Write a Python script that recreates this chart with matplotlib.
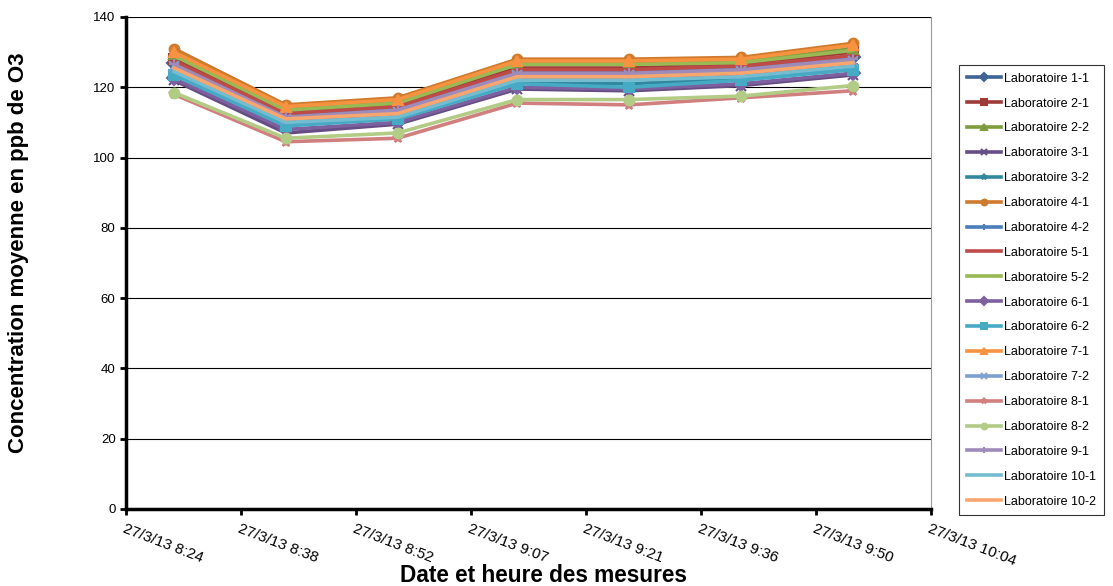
import matplotlib
matplotlib.use("Agg")
import matplotlib.pyplot as plt
import matplotlib.dates as mdates
from datetime import datetime

plt.rcParams['font.family'] = ['Liberation Sans', 'DejaVu Sans']

# Measurement times (27/3/13)
times = ["08:30", "08:44", "08:58", "09:13", "09:27", "09:41", "09:55"]

# Mean O3 concentration per laboratory (ppb)
labs = ["Laboratoire 1-1", "Laboratoire 2-1", "Laboratoire 2-2", "Laboratoire 3-1",
        "Laboratoire 3-2", "Laboratoire 4-1", "Laboratoire 4-2", "Laboratoire 5-1",
        "Laboratoire 5-2", "Laboratoire 6-1", "Laboratoire 6-2", "Laboratoire 7-1",
        "Laboratoire 7-2", "Laboratoire 8-1", "Laboratoire 8-2", "Laboratoire 9-1",
        "Laboratoire 10-1", "Laboratoire 10-2"]
lab_1_1 = [127.0, 112.0, 114.0, 124.5, 124.5, 125.5, 128.5]
lab_2_1 = [128.0, 113.0, 115.0, 125.5, 125.5, 126.5, 130.0]
lab_2_2 = [129.5, 114.0, 116.0, 127.0, 127.0, 127.5, 131.0]
lab_3_1 = [122.0, 107.0, 109.5, 119.5, 119.0, 120.5, 123.5]
lab_3_2 = [124.0, 109.5, 111.0, 121.5, 121.0, 122.5, 125.5]
lab_4_1 = [131.0, 115.0, 117.0, 128.0, 128.0, 128.5, 132.5]
lab_4_2 = [125.0, 110.5, 112.0, 122.5, 122.5, 123.5, 126.5]
lab_5_1 = [127.5, 112.5, 114.5, 125.0, 125.0, 126.0, 129.0]
lab_5_2 = [129.0, 113.5, 115.5, 126.5, 126.5, 127.0, 130.5]
lab_6_1 = [122.5, 108.0, 110.0, 120.0, 119.5, 121.0, 124.0]
lab_6_2 = [123.5, 109.0, 111.0, 121.0, 120.0, 122.0, 125.0]
lab_7_1 = [130.0, 114.5, 116.5, 127.5, 127.5, 128.0, 132.0]
lab_7_2 = [126.0, 111.0, 113.0, 123.5, 123.5, 124.5, 127.5]
lab_8_1 = [118.0, 104.5, 105.5, 115.5, 115.0, 117.0, 119.0]
lab_8_2 = [118.5, 105.5, 107.0, 116.5, 116.5, 117.5, 120.5]
lab_9_1 = [126.5, 111.5, 113.5, 124.0, 124.0, 125.0, 128.0]
lab_10_1 = [124.5, 110.0, 111.5, 122.0, 122.0, 123.0, 126.0]
lab_10_2 = [125.5, 111.0, 112.5, 123.0, 123.0, 124.0, 127.0]

series = [lab_1_1, lab_2_1, lab_2_2, lab_3_1, lab_3_2, lab_4_1, lab_4_2, lab_5_1,
          lab_5_2, lab_6_1, lab_6_2, lab_7_1, lab_7_2, lab_8_1, lab_8_2, lab_9_1,
          lab_10_1, lab_10_2]

colors = ["#3F6495", "#9E3B39", "#7E9C3E", "#664D83", "#30889E", "#D07A2D",
          "#4A7EBB", "#BE4B48", "#98B954", "#7D60A0", "#46AAC5", "#F69240",
          "#7F9FCF", "#D07F7E", "#B2CC86", "#9F8BB9", "#74BDD1", "#F8A66E"]
markers = ["D", "s", "^", "x", "*", "o", "+", None, None,
           "D", "s", "^", "x", "*", "o", "+", None, None]

x = [datetime.strptime("2013-03-27 " + t, "%Y-%m-%d %H:%M") for t in times]

fig = plt.figure(figsize=(11.13, 5.86), dpi=100)
ax = fig.add_axes([0.1132, 0.1314, 0.7233, 0.8396])

for vals, lab, c, m in zip(series, labs, colors, markers):
    ax.plot(x, vals, color=c, lw=2.6, marker=m, markersize=7,
            markeredgewidth=1.5, label=lab)

# x axis: ticks every 0.01 day starting 8:24
base = mdates.date2num(datetime(2013, 3, 27))
ticks = [base + 0.35 + 0.01 * i for i in range(8)]
ax.set_xlim(ticks[0], ticks[-1])
ax.set_xticks(ticks)
labels = [mdates.num2date(t).strftime("%d/%-m/%y %-H:%M") for t in ticks]
ax.set_xticklabels(labels, rotation=-21, ha="left", va="top", rotation_mode="anchor",
                   fontsize=11)

ax.set_ylim(0, 140)
ax.set_yticks(range(0, 141, 20))
ax.tick_params(axis="y", labelsize=9.5, length=4, width=2, direction="out")
ax.tick_params(axis="x", length=4, width=2, direction="out", pad=5)
ax.yaxis.grid(True, color="black", lw=0.8)
ax.set_axisbelow(True)

ax.spines["left"].set_linewidth(2.5)
ax.spines["bottom"].set_linewidth(2.5)
ax.spines["right"].set_color("#999999")
ax.spines["right"].set_linewidth(0.8)
ax.spines["top"].set_visible(False)

ax.set_ylabel("Concentration moyenne en ppb de O3", fontsize=16, fontweight="bold")
ax.yaxis.set_label_coords(-0.121, 0.52)
ax.set_xlabel("Date et heure des mesures", fontsize=16.3, fontweight="bold")
ax.xaxis.set_label_coords(0.518, -0.112)

leg = fig.legend(loc="center left", bbox_to_anchor=(0.862, 0.505), fontsize=9,
                 frameon=True, fancybox=False, edgecolor="black", handlelength=2.7,
                 handletextpad=0.3, labelspacing=1.03, borderpad=0.6,
                 borderaxespad=0, markerscale=0.6)
leg.get_frame().set_linewidth(0.8)

fig.savefig("out.png", dpi=100)
